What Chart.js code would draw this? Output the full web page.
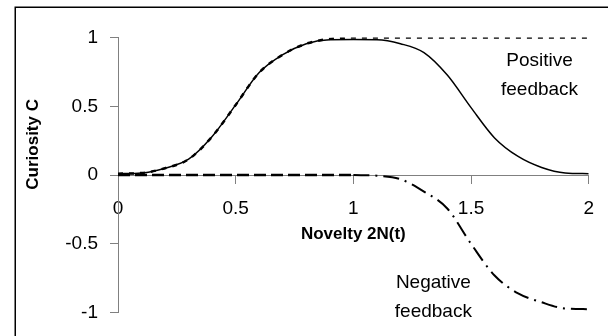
<!DOCTYPE html>
<html><head><meta charset="utf-8">
<script src="https://cdn.jsdelivr.net/npm/chart.js@4.4.1/dist/chart.umd.min.js"></script>
<style>html,body{margin:0;padding:0;background:#fff;}canvas{display:block;}</style>
</head><body>
<canvas id="c" width="608" height="336"></canvas>
<script>
// ---- data ----
const xValues = [0, 0.1, 0.2, 0.3, 0.4, 0.5, 0.6, 0.7, 0.8, 0.9, 1.0, 1.1, 1.2, 1.3, 1.4, 1.5, 1.6, 1.7, 1.8, 1.9, 2.0];
const curiosity = [0.01, 0.015, 0.05, 0.115, 0.28, 0.51, 0.745, 0.875, 0.955, 0.984, 0.985, 0.984, 0.955, 0.89, 0.725, 0.49, 0.27, 0.135, 0.055, 0.015, 0.01];
const positiveFeedback = [0.01, 0.015, 0.05, 0.115, 0.28, 0.51, 0.745, 0.875, 0.955, 0.99, 1, 1, 1, 1, 1, 1, 1, 1, 1, 1, 1];
const zeroX = [0, 0.1, 0.2, 0.3, 0.4, 0.5, 0.6, 0.7, 0.8, 0.9, 1.0];
const zeroValues = [0, 0, 0, 0, 0, 0, 0, 0, 0, 0, 0];
const negativeX = [1.0, 1.1, 1.2, 1.3, 1.4, 1.5, 1.6, 1.7, 1.8, 1.9, 2.0];
const negativeFeedback = [0, -0.005, -0.03, -0.12, -0.245, -0.5, -0.73, -0.86, -0.925, -0.97, -0.975];
const xTickValues = [0, 0.5, 1, 1.5, 2];
const xTickLabels = ['0', '0.5', '1', '1.5', '2'];
const yTickValues = [-1, -0.5, 0, 0.5, 1];
const yTickLabels = ['-1', '-0.5', '0', '0.5', '1'];
const xTitle = 'Novelty 2N(t)';
const yTitle = 'Curiosity C';
const notes = [
  {lines: ['Positive', 'feedback'], x: 1.791, y: 0.79},
  {lines: ['Negative', 'feedback'], x: 1.34, y: -0.822}
];

const FONT = "'Liberation Sans', Arial, sans-serif";
const AXIS = '#808080';

const pts = (xs, ys) => xs.map((x, i) => ({x: x, y: ys[i]}));

const decor = {
  id: 'decor',
  beforeDraw(chart) {
    const ctx = chart.ctx;
    ctx.save();
    ctx.fillStyle = '#fff';
    ctx.fillRect(0, 0, chart.width, chart.height);
    ctx.strokeStyle = '#000';
    ctx.lineWidth = 1.5;
    ctx.strokeRect(15.25, 7.25, chart.width + 20, chart.height + 20);
    ctx.restore();
  },
  afterDraw(chart) {
    const ctx = chart.ctx, sx = chart.scales.x, sy = chart.scales.y;
    ctx.save();
    ctx.fillStyle = '#000';
    ctx.font = '19px ' + FONT;
    ctx.textAlign = 'center';
    ctx.textBaseline = 'alphabetic';
    notes.forEach(n => {
      const px = sx.getPixelForValue(n.x);
      const py = sy.getPixelForValue(n.y);
      n.lines.forEach((t, i) => ctx.fillText(t, px, py + i * 29));
    });
    ctx.restore();
  }
};

new Chart(document.getElementById('c'), {
  type: 'line',
  data: {
    datasets: [
      {label: 'Zero', data: pts(zeroX, zeroValues), borderColor: '#000', borderWidth: 2.5, borderDash: [12, 5]},
      {label: 'Negative feedback', data: pts(negativeX, negativeFeedback), borderColor: '#000', borderWidth: 2, borderDash: [16, 6, 2, 6], cubicInterpolationMode: 'monotone'},
      {label: 'Positive feedback', data: pts(xValues, positiveFeedback), borderColor: '#000', borderWidth: 2.5, borderDash: [5, 6], cubicInterpolationMode: 'monotone'},
      {label: 'Curiosity', data: pts(xValues, curiosity), borderColor: '#000', borderWidth: 1.5, cubicInterpolationMode: 'monotone'}
    ]
  },
  options: {
    responsive: false,
    animation: false,
    events: [],
    elements: {point: {radius: 0}, line: {fill: false}},
    layout: {padding: {top: 37.5, right: 16, bottom: 0, left: 0}},
    plugins: {legend: {display: false}, tooltip: {enabled: false}, title: {display: false}},
    scales: {
      x: {
        type: 'linear',
        position: {y: 0},
        min: 0, max: 2,
        afterBuildTicks: s => { s.ticks = xTickValues.map(v => ({value: v})); },
        afterFit: s => { s.height = 14; },
        grid: {drawOnChartArea: false, drawTicks: true, tickLength: 8, color: AXIS, lineWidth: 1},
        border: {display: true, color: AXIS, width: 1},
        ticks: {color: '#000', font: {family: FONT, size: 19}, padding: 14, maxRotation: 0, autoSkip: false,
                callback: (v, i) => xTickLabels[i]},
        title: {display: true, text: xTitle, color: '#000', font: {family: FONT, size: 17, weight: 'bold'}, padding: {top: 0, bottom: -55}}
      },
      y: {
        type: 'linear',
        position: 'left',
        min: -1, max: 1,
        afterBuildTicks: s => { s.ticks = yTickValues.map(v => ({value: v})); },
        afterFit: s => { s.width = 118; },
        grid: {drawOnChartArea: false, drawTicks: true, tickLength: 8, color: AXIS, lineWidth: 1},
        border: {display: true, color: AXIS, width: 1},
        ticks: {color: '#000', font: {family: FONT, size: 19}, padding: 12,
                callback: (v, i) => yTickLabels[i]},
        title: {display: true, text: '\u0020'.repeat(13) + yTitle, color: '#000', font: {family: FONT, size: 17, weight: 'bold'}, padding: {top: 22.8, bottom: 0}}
      }
    }
  },
  plugins: [decor]
});
</script>
</body></html>
